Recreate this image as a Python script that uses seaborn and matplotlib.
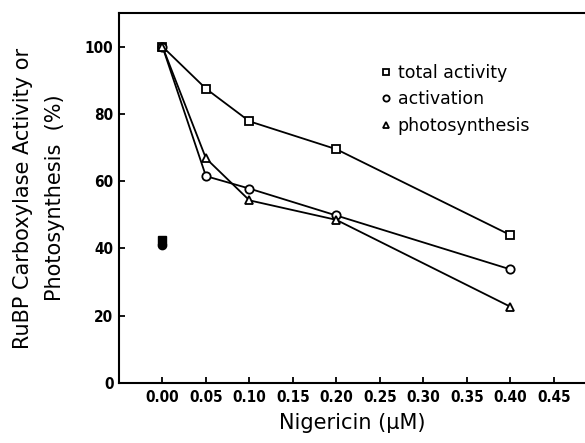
import matplotlib
matplotlib.use("Agg")
import matplotlib.pyplot as plt
import seaborn as sns
import pandas as pd
from matplotlib.lines import Line2D

# values
nigericin = [0.00, 0.05, 0.10, 0.20, 0.40]
total_activity = [100, 87.5, 77.8, 69.5, 44]
activation = [100, 61.5, 57.8, 49.8, 33.8]
photosynthesis = [100, 66.8, 54.3, 48.5, 22.7]
# filled symbols at 0 uM
ctrl_x = [0.00, 0.00]
ctrl_y = [42.5, 41.0]
ctrl_marker = ["s", "o"]

x_ticks = [0.00, 0.05, 0.10, 0.15, 0.20, 0.25, 0.30, 0.35, 0.40, 0.45]
y_ticks = [0, 20, 40, 60, 80, 100]

sns.set_style("ticks")
plt.rcParams["font.family"] = ["DejaVu Sans"]
plt.rcParams["text.color"] = "black"
plt.rcParams["axes.labelcolor"] = "black"
plt.rcParams["xtick.color"] = "black"
plt.rcParams["ytick.color"] = "black"

fig = plt.figure(figsize=(5.85, 4.43), dpi=100)
ax = fig.add_axes([0.2034, 0.1354, 0.7966, 0.8353])

series = [("total activity", total_activity, "s"),
          ("activation", activation, "o"),
          ("photosynthesis", photosynthesis, "^")]

for name, vals, mk in series:
    df = pd.DataFrame({"x": nigericin, "y": vals})
    sns.lineplot(data=df, x="x", y="y", ax=ax, color="black", linewidth=1.3,
                 marker=mk, markersize=6, markerfacecolor="white",
                 markeredgecolor="black", markeredgewidth=1.3)

for xv, yv, mk in zip(ctrl_x, ctrl_y, ctrl_marker):
    ax.plot([xv], [yv], marker=mk, markersize=6, color="black", linestyle="none")

ax.set_xlim(-0.05, 0.486)
ax.set_ylim(0, 110)
ax.set_xticks(x_ticks)
ax.set_xticklabels([f"{v:.2f}" for v in x_ticks])
ax.set_yticks(y_ticks)
ax.tick_params(direction="in", length=4, width=1.3)
ax.tick_params(axis="x", pad=5)
ax.tick_params(axis="y", pad=4)
for lab in ax.get_xticklabels() + ax.get_yticklabels():
    lab.set_fontweight("bold")
    lab.set_fontstretch("condensed")
    lab.set_fontsize(11)

for side in ["left", "bottom", "top"]:
    ax.spines[side].set_linewidth(1.5)
    ax.spines[side].set_color("black")
ax.spines["right"].set_visible(False)

ax.set_xlabel("Nigericin (µM)", fontsize=15, labelpad=6)
ax.set_ylabel("RuBP Carboxylase Activity or\nPhotosynthesis  (%)", fontsize=15,
              labelpad=14, linespacing=1.8)

handles = [Line2D([], [], linestyle="none", marker=mk, markersize=4.5,
                  markerfacecolor="white", markeredgecolor="black",
                  markeredgewidth=1.3, label=name) for name, _, mk in series]
ax.legend(handles=handles, loc="upper left", bbox_to_anchor=(0.52, 0.905),
          frameon=False, fontsize=12.5, handletextpad=0.2, handlelength=1.0,
          labelspacing=0.5)

fig.savefig("out.png", dpi=100)
